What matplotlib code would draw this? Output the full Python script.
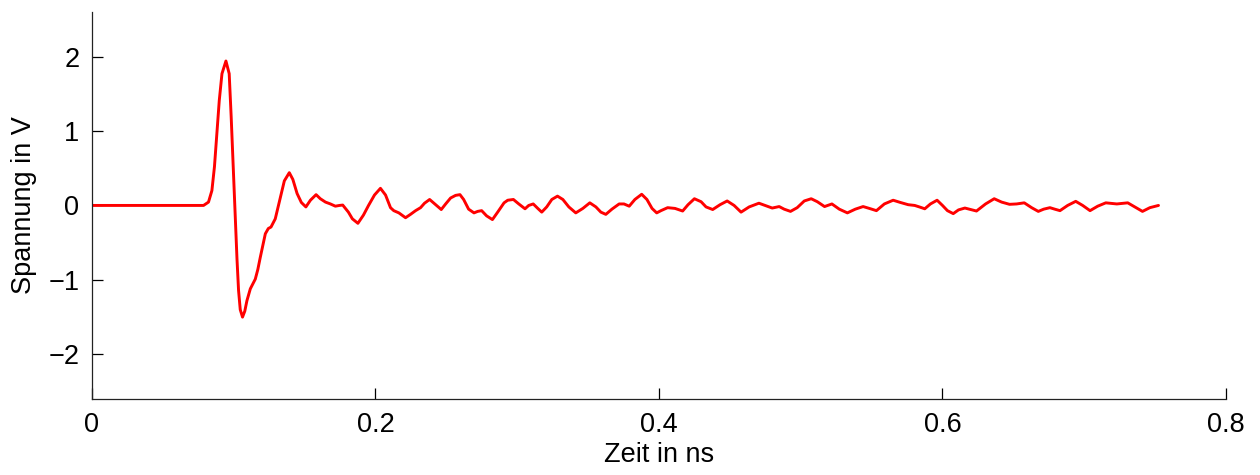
import matplotlib.pyplot as plt

# time in ns, voltage in V
zeit = [
  0.0, 0.0787, 0.0822, 0.0846, 0.0864, 0.0881, 0.0898, 0.0917, 0.0945, 0.0968,
  0.0982, 0.0999, 0.1012, 0.1023, 0.1034, 0.1046, 0.1062, 0.1078, 0.1093, 0.1117,
  0.1152, 0.1170, 0.1187, 0.1223, 0.1244, 0.1263, 0.1293, 0.1329, 0.1357, 0.1392,
  0.1417, 0.1447, 0.1477, 0.1509, 0.1541, 0.1581, 0.1611, 0.1647, 0.1682, 0.1717,
  0.1746, 0.1769, 0.1809, 0.1837, 0.1876, 0.1915, 0.1951, 0.1993, 0.2035, 0.2071,
  0.2106, 0.2129, 0.2165, 0.2212, 0.2247, 0.2283, 0.2318, 0.2346, 0.2382, 0.2424,
  0.2464, 0.2495, 0.2530, 0.2565, 0.2596, 0.2622, 0.2657, 0.2695, 0.2721, 0.2749,
  0.2784, 0.2825, 0.2862, 0.2907, 0.2933, 0.2973, 0.3011, 0.3055, 0.3081, 0.3113,
  0.3145, 0.3173, 0.3208, 0.3244, 0.3284, 0.3322, 0.3364, 0.3413, 0.3463, 0.3512,
  0.3555, 0.3590, 0.3625, 0.3668, 0.3719, 0.3753, 0.3790, 0.3830, 0.3878, 0.3915,
  0.3951, 0.3984, 0.4014, 0.4061, 0.4113, 0.4167, 0.4205, 0.4250, 0.4297, 0.4332,
  0.4379, 0.4431, 0.4481, 0.4530, 0.4579, 0.4636, 0.4705, 0.4749, 0.4799, 0.4848,
  0.4883, 0.4928, 0.4975, 0.5025, 0.5074, 0.5117, 0.5168, 0.5220, 0.5272, 0.5329,
  0.5385, 0.5440, 0.5484, 0.5534, 0.5590, 0.5652, 0.5703, 0.5758, 0.5804, 0.5837,
  0.5875, 0.5915, 0.5962, 0.6000, 0.6035, 0.6076, 0.6113, 0.6158, 0.6198, 0.6240,
  0.6304, 0.6365, 0.6417, 0.6473, 0.6523, 0.6577, 0.6629, 0.6676, 0.6714, 0.6758,
  0.6792, 0.6829, 0.6883, 0.6940, 0.6989, 0.7041, 0.7095, 0.7152, 0.7230, 0.7307,
  0.7357, 0.7411, 0.7463, 0.7524,
]
spannung = [
  0.0, 0.0, 0.045, 0.2, 0.52, 0.965, 1.41, 1.77, 1.94, 1.77,
  1.19, 0.40, -0.22, -0.72, -1.14, -1.40, -1.50, -1.42, -1.28, -1.12,
  -0.99, -0.86, -0.70, -0.38, -0.31, -0.29, -0.18, 0.11, 0.33, 0.44,
  0.35, 0.16, 0.04, -0.02, 0.07, 0.145, 0.09, 0.045, 0.02, -0.01,
  0.0, 0.005, -0.09, -0.18, -0.24, -0.13, 0.0, 0.14, 0.23, 0.14,
  -0.03, -0.07, -0.10, -0.165, -0.12, -0.07, -0.03, 0.03, 0.08, 0.01,
  -0.055, 0.02, 0.1, 0.135, 0.145, 0.08, -0.05, -0.1, -0.08, -0.07,
  -0.14, -0.19, -0.09, 0.035, 0.07, 0.08, 0.02, -0.045, 0.0, 0.02,
  -0.04, -0.09, -0.02, 0.08, 0.125, 0.08, -0.02, -0.1, -0.04, 0.035,
  -0.02, -0.09, -0.12, -0.05, 0.02, 0.02, -0.01, 0.08, 0.15, 0.08,
  -0.04, -0.1, -0.07, -0.03, -0.04, -0.075, 0.01, 0.09, 0.05, -0.02,
  -0.055, 0.01, 0.06, 0.0, -0.09, -0.02, 0.03, 0.0, -0.035, -0.015,
  -0.05, -0.08, -0.03, 0.06, 0.09, 0.05, -0.015, 0.02, -0.05, -0.1,
  -0.05, -0.015, -0.04, -0.07, 0.02, 0.07, 0.04, 0.01, 0.0, -0.02,
  -0.045, 0.02, 0.07, 0.0, -0.07, -0.11, -0.06, -0.035, -0.055, -0.075,
  0.02, 0.09, 0.045, 0.015, 0.02, 0.035, -0.03, -0.08, -0.05, -0.03,
  -0.05, -0.07, 0.0, 0.055, 0.0, -0.07, -0.01, 0.035, 0.02, 0.035,
  -0.02, -0.08, -0.03, 0.0,
]

x_ticks = [0, 0.2, 0.4, 0.6, 0.8]
x_labels = ['0', '0.2', '0.4', '0.6', '0.8']
y_ticks = [-2, -1, 0, 1, 2]
y_labels = ['\u22122', '\u22121', '0', '1', '2']

plt.rcParams['font.family'] = ['Liberation Sans', 'DejaVu Sans']

fig = plt.figure(figsize=(12.6, 4.75), dpi=100)
ax = fig.add_axes([0.073, 0.16, 0.9, 0.815])

ax.plot(zeit, spannung, color='red', linewidth=2.1,
        solid_joinstyle='round', solid_capstyle='round')

ax.set_xlim(0, 0.8)
ax.set_ylim(-2.6, 2.6)
ax.set_xticks(x_ticks)
ax.set_xticklabels(x_labels)
ax.set_yticks(y_ticks)
ax.set_yticklabels(y_labels)
ax.tick_params(direction='in', length=8, width=0.9, labelsize=19.5, colors='black', pad=9)

ax.spines['top'].set_visible(False)
ax.spines['right'].set_visible(False)
for s in ('left', 'bottom'):
  ax.spines[s].set_linewidth(0.9)
  ax.spines[s].set_color('#222222')

ax.set_xlabel('Zeit in ns', fontsize=19.5, labelpad=3)
ax.set_ylabel('Spannung in V', fontsize=19.5, labelpad=8)

fig.savefig('out.png', dpi=100)
